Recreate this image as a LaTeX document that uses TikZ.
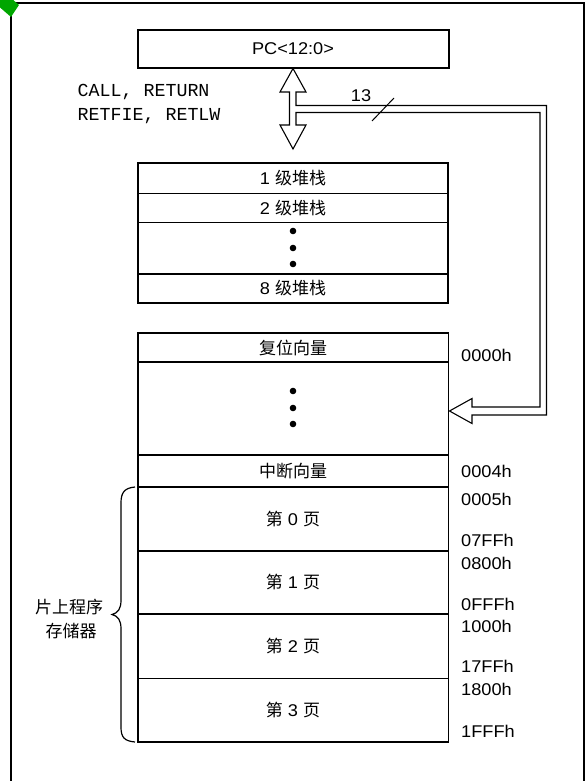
\documentclass[tikz,border=0pt]{standalone}
\usepackage{fontspec}
\setmainfont{Liberation Sans}[FakeStretch=1.07]
\newfontfamily\cjk{Noto Sans CJK SC}
\newfontfamily\mono{Liberation Mono}
\begin{document}
\begin{tikzpicture}[x=1pt,y=-1pt,
  box/.style={draw=black,line width=1.6pt},
  lbl/.style={inner sep=0pt,font=\fontsize{17}{20}\selectfont},
  addr/.style={lbl,anchor=west},
  dot/.style={fill=black,circle,inner sep=0pt,minimum size=6.6pt},
  outl/.style={draw=black,line width=1.1pt,line join=miter}]
\useasboundingbox (0,0) rectangle (587,781);
% frame
\draw[line width=1.6pt] (11,790) -- (11,3) -- (584,3) -- (584,790);
% green marker
\fill[green!65!black] (4,-8) -- (19,5) -- (11,17) -- (-4,4) -- cycle;
% PC box
\draw[box] (138,30) rectangle (449,68);
\node[lbl] (pc) at (293,49) {PC<12:0>};
% hollow arrows / bus
\draw[outl] (293,68.5) -- (306,92) -- (296,92) -- (296,105.5) -- (546.5,105.5)
  -- (546.5,415) -- (472,415) -- (472,423.5) -- (449.5,411) -- (472,398.5)
  -- (472,407) -- (540,407) -- (540,112.5) -- (296,112.5) -- (296,125)
  -- (306,125) -- (293,149) -- (280,125) -- (289.5,125) -- (289.5,92)
  -- (280,92) -- cycle;
\coordinate (s1) at (372,121);
\coordinate (s2) at (394,98);
\draw[line width=1pt] (s1) -- (s2);
\node[lbl] (n13) at (361,95.5) {13};
% instruction labels
\node[inner sep=0pt,anchor=base west,font=\mono\fontsize{18.3}{20}\selectfont] (ins1) at (77.5,96.7) {CALL, RETURN};
\node[inner sep=0pt,anchor=base west,font=\mono\fontsize{18.3}{20}\selectfont] (ins2) at (77.5,120.7) {RETFIE, RETLW};
% stack
\draw[box] (138,162.7) rectangle (448,302.7);
\draw[box] (138,193.3) -- (448,193.3);
\draw[box] (138,222.3) -- (448,222.3);
\draw[box] (138,274) -- (448,274);
\node[lbl] (st1) at (293,178) {1 {\cjk 级堆栈}};
\node[lbl] (st2) at (293,208) {2 {\cjk 级堆栈}};
\node[dot] (sd1) at (293,231) {};
\node[dot] (sd2) at (293,248) {};
\node[dot] (sd3) at (293,264) {};
\node[lbl] (st8) at (293,288) {8 {\cjk 级堆栈}};
% program memory
\draw[box] (138,332.7) rectangle (448.5,741.7);
\foreach \yy in {361.7,455,486.7,551,614,678.3}
  \draw[box] (138,\yy) -- (448.5,\yy);
\node[lbl] (rv) at (293,347.5) {\cjk 复位向量};
\node[dot] (md1) at (293,391) {};
\node[dot] (md2) at (293,408) {};
\node[dot] (md3) at (293,424) {};
\node[lbl] (iv) at (293,471) {\cjk 中断向量};
\node[lbl] (p0) at (293,519) {{\cjk 第} 0 {\cjk 页}};
\node[lbl] (p1) at (293,582.5) {{\cjk 第} 1 {\cjk 页}};
\node[lbl] (p2) at (293,646) {{\cjk 第} 2 {\cjk 页}};
\node[lbl] (p3) at (293,710) {{\cjk 第} 3 {\cjk 页}};
% addresses
\node[addr] (a0) at (461,355) {0000h};
\node[addr] (a4) at (461,471) {0004h};
\node[addr] (a5) at (461,499) {0005h};
\node[addr] (a7) at (461,540) {07FFh};
\node[addr] (a8) at (461,563.5) {0800h};
\node[addr] (af) at (461,604) {0FFFh};
\node[addr] (a10) at (461,626) {1000h};
\node[addr] (a17) at (461,666.5) {17FFh};
\node[addr] (a18) at (461,689.5) {1800h};
\node[addr] (a1f) at (461,731.5) {1FFFh};
% brace
\draw[line width=1.2pt] (135,487) .. controls (124,488) and (121,493) .. (121,503)
  -- (121,600) .. controls (121,609) and (118,613) .. (112,614.5)
  .. controls (118,616) and (121,620) .. (121,629)
  -- (121,727) .. controls (121,737) and (124,741) .. (135,742);
\node[lbl] (pm1) at (69,607) {\cjk 片上程序};
\node[lbl] (pm2) at (71,631) {\cjk 存储器};
\end{tikzpicture}
\end{document}
